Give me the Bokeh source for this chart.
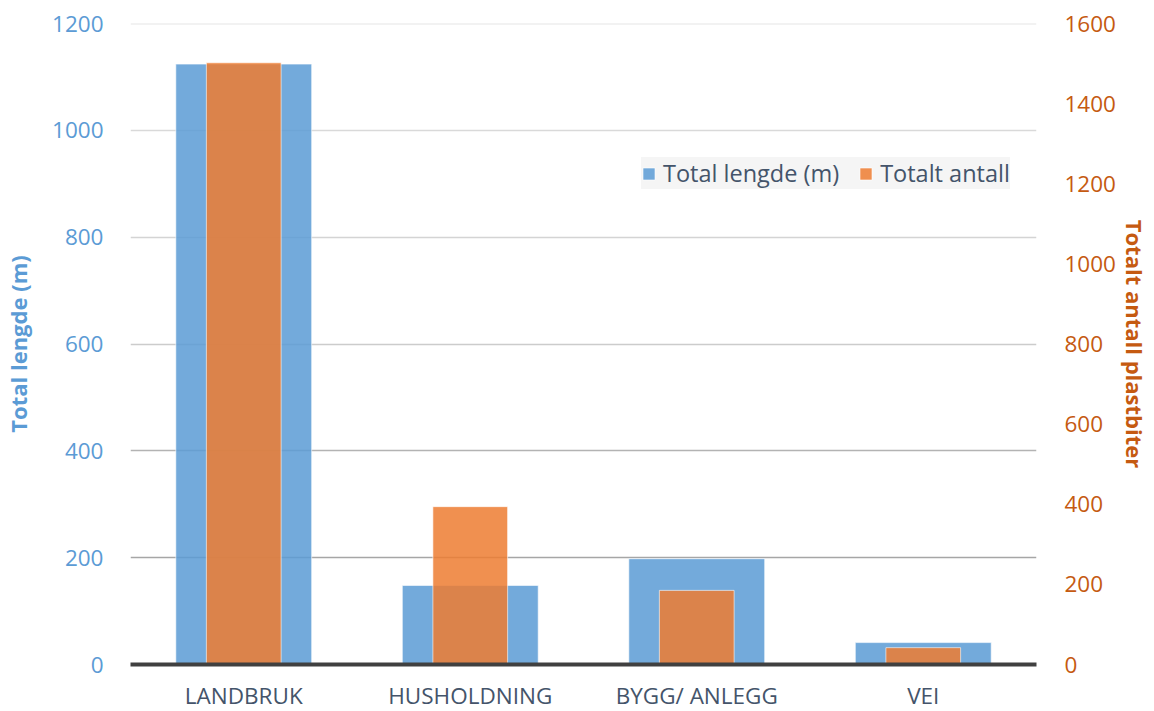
from bokeh.plotting import figure
from bokeh.models import FactorRange, Range1d, LinearAxis, FixedTicker, Grid, Span
from bokeh.embed import file_html
from bokeh.resources import INLINE

categories = ["LANDBRUK", "HUSHOLDNING", "BYGG/ ANLEGG", "VEI"]
total_lengde = [1124, 148, 198, 41]
totalt_antall = [1502, 394, 185, 42]
left_ticks = [0, 200, 400, 600, 800, 1000, 1200]
right_ticks = [0, 200, 400, 600, 800, 1000, 1200, 1400, 1600]

FONT = "Open Sans"
BLUE = "#5b9bd5"
ORANGE = "#ed7d31"
BLUE_TXT = "#5b9bd5"
ORANGE_TXT = "#c55a11"
CAT_TXT = "#44546a"
TICK_SIZE = "22.5px"
TITLE_SIZE = "22px"
# grid line shades (the reference fades lighter toward the top)
GRID_SHADES = ["#a6a6a6", "#b3b3b3", "#cccccc", "#d4d4d4", "#d9d9d9", "#e6e6e6"]

p = figure(
    x_range=FactorRange(factors=categories, range_padding=0),
    y_range=Range1d(0, 1200),
    frame_width=906, frame_height=641,
    min_border_left=124, min_border_right=108,
    min_border_top=23, min_border_bottom=46,
    output_backend="svg", toolbar_location=None,
    outline_line_color=None,
)
p.extra_y_ranges = {"right": Range1d(0, 1600)}

# grid
p.xgrid.grid_line_color = None
p.ygrid.grid_line_color = None
for tick, shade in zip(left_ticks[1:], GRID_SHADES):
    g = Grid(dimension=1, ticker=FixedTicker(ticks=[tick]),
             grid_line_color=shade, grid_line_width=1.5)
    p.add_layout(g, "center")
p.add_layout(Span(location=left_ticks[-1], dimension="width",
                  line_color=GRID_SHADES[-1], line_width=2, level="underlay"))

p.vbar(x=categories, top=total_lengde, width=0.6, fill_color=BLUE, fill_alpha=0.85,
       line_color="white", line_alpha=0.6, line_width=1, legend_label="Total lengde (m)")
p.vbar(x=categories, top=totalt_antall, width=0.33, fill_color=ORANGE, fill_alpha=0.85,
       line_color="white", line_alpha=0.6, line_width=1, y_range_name="right",
       legend_label="Totalt antall")

# left axis
la = p.yaxis[0]
la.ticker = FixedTicker(ticks=left_ticks)
la.axis_label = "Total lengde (m)"
la.axis_label_text_font = FONT
la.axis_label_text_font_style = "bold"
la.axis_label_text_font_size = TITLE_SIZE
la.axis_label_text_color = BLUE_TXT
la.axis_label_standoff = 16
la.major_label_text_font = FONT
la.major_label_text_font_size = TICK_SIZE
la.major_label_text_color = BLUE_TXT
la.major_label_standoff = 27
la.axis_line_color = None
la.major_tick_line_color = None
la.minor_tick_line_color = None
la.major_tick_out = 0
la.major_tick_in = 0

# right axis
ra = LinearAxis(y_range_name="right", ticker=FixedTicker(ticks=right_ticks))
ra.axis_label = "Totalt antall plastbiter"
ra.axis_label_text_font = FONT
ra.axis_label_text_font_style = "bold"
ra.axis_label_text_font_size = TITLE_SIZE
ra.axis_label_text_color = ORANGE_TXT
ra.axis_label_standoff = 1
ra.major_label_text_font = FONT
ra.major_label_text_font_size = TICK_SIZE
ra.major_label_text_color = ORANGE_TXT
ra.major_label_standoff = 28
ra.axis_line_color = None
ra.major_tick_line_color = None
ra.minor_tick_line_color = None
ra.major_tick_out = 0
ra.major_tick_in = 0
p.add_layout(ra, "right")

# bottom axis
xa = p.xaxis[0]
xa.axis_line_color = "#404040"
xa.axis_line_width = 4
xa.major_tick_line_color = None
xa.minor_tick_line_color = None
xa.major_tick_out = 0
xa.major_label_text_font = FONT
xa.major_label_text_font_size = TICK_SIZE
xa.major_label_text_color = CAT_TXT
xa.major_label_standoff = 15

# legend
lg = p.legend[0]
lg.orientation = "horizontal"
lg.location = (511, 475)
lg.background_fill_color = "#f2f2f2"
lg.background_fill_alpha = 0.8
lg.border_line_color = None
lg.label_text_font = FONT
lg.label_text_font_size = "23.5px"
lg.label_text_color = CAT_TXT
lg.glyph_width = 15
lg.glyph_height = 15
lg.label_standoff = 7
lg.spacing = 19
lg.padding = 10
lg.margin = 0

open("out.html", "w").write(file_html(p, INLINE))
